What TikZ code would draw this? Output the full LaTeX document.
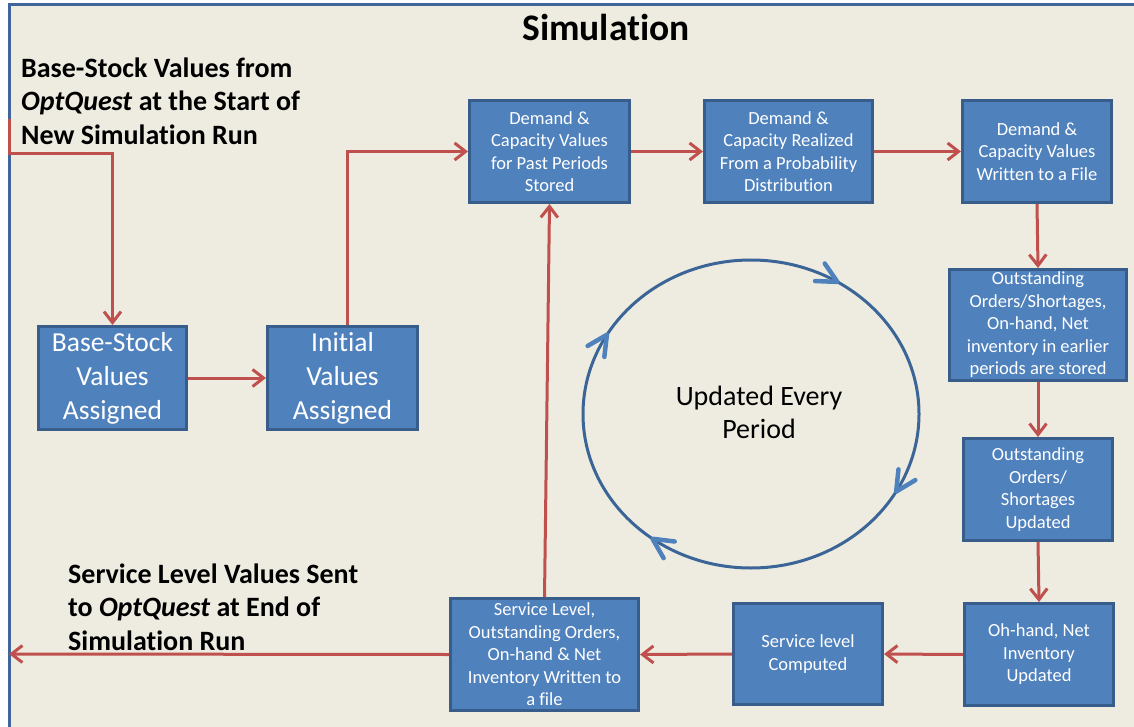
\documentclass[tikz,border=0pt]{standalone}
\usepackage{fontspec}
\setmainfont{Carlito}[Ligatures=NoCommon]
\usetikzlibrary{arrows.meta,decorations.markings}
\definecolor{bgbeige}{HTML}{EEECE1}
\definecolor{boxfill}{HTML}{4F81BD}
\definecolor{boxline}{HTML}{385D8A}
\definecolor{redline}{HTML}{C0504D}
\definecolor{circline}{HTML}{3B6497}
\definecolor{frameline}{HTML}{40659A}
\begin{document}
\begin{tikzpicture}[x=1pt,y=1pt,
  box/.style={draw=boxline, fill=boxfill, line width=3pt, text=white, align=center, inner sep=0pt, font=\fontsize{18.5}{22.5}\selectfont},
  bigbox/.style={box, font=\fontsize{27.5}{34}\selectfont},
  conn/.style={draw=redline, line width=3pt, -{Straight Barb[length=11pt,width=17pt]}},
  circ/.style={draw=circline, line width=3pt},
  chev/.style={draw=boxfill, line width=4.5pt, line cap=round, line join=round},
  bigtext/.style={font=\fontsize{28}{33.5}\selectfont\bfseries, align=left, inner sep=0pt}
]
\useasboundingbox (0,0) rectangle (1134,-727);
\clip (0,0) rectangle (1134,-727);
\fill[white] (0,0) rectangle (1134,-727);
\fill[bgbeige] (9,-5) rectangle (1140,-740);
\draw[frameline, line width=3pt] (9,-740) -- (9,-5) -- (1140,-5);

\node[font=\fontsize{37.5}{40}\selectfont\bfseries, inner sep=0pt] (title) at (606,-27) {Simulation};

\node[bigtext, anchor=west] (intext) at (21,-101) {Base-Stock Values from\\\textit{OptQuest} at the Start of\\New Simulation Run};
\node[bigtext, anchor=west] (outtext) at (68,-607) {Service Level Values Sent\\to \textit{OptQuest} at End of\\Simulation Run};

\node[bigbox, minimum width=148, minimum height=103] (b1) at (112.5,-378) {Base-Stock\\Values\\Assigned};
\node[bigbox, minimum width=150, minimum height=103] (b2) at (342.5,-378) {Initial\\Values\\Assigned};
\node[box, minimum width=160, minimum height=102] (b3) at (549.5,-151.5) {Demand \&\\Capacity Values\\for Past Periods\\Stored};
\node[box, minimum width=168, minimum height=102] (b4) at (788.5,-151.5) {Demand \&\\Capacity Realized\\From a Probability\\Distribution};
\node[box, minimum width=149, minimum height=102] (b5) at (1037,-151.5) {Demand \&\\Capacity Values\\Written to a File};
\node[box, minimum width=177, minimum height=111] (b6) at (1038,-325) {Outstanding\\Orders/Shortages,\\On-hand, Net\\inventory in earlier\\periods are stored};
\node[box, minimum width=149, minimum height=102] (b7) at (1038,-489.5) {Outstanding\\Orders/\\Shortages\\Updated};
\node[box, minimum width=149, minimum height=102] (b8) at (1039,-654.5) {Oh-hand, Net\\Inventory\\Updated};
\node[box, minimum width=149, minimum height=101] (b9) at (808,-654) {Service level\\Computed};
\node[box, minimum width=188, minimum height=112] (b10) at (544.5,-654.5) {Service Level,\\Outstanding Orders,\\On-hand \& Net\\Inventory Written to\\a file};

\coordinate (start) at (9,-119);
\coordinate (bend) at (9,-154);
\coordinate (finish) at (9,-654);
\draw[conn] (start) -- (bend) -| (b1.north);
\draw[conn] (b1.east) -- (b2.west);
\draw[conn] ([xshift=5pt]b2.north) |- (b3.west);
\draw[conn] (b3.east) -- (b4.west);
\draw[conn] (b4.east) -- (b5.west);
\draw[conn] (b5.south) -- (b6.north);
\draw[conn] (b6.south) -- (b7.north);
\draw[conn] (b7.south) -- (b8.north);
\draw[conn] (b8.west) -- (b9.east);
\draw[conn] (b9.west) -- (b10.east);
\draw[conn] (b10.west) -- (finish);
\draw[conn] (b10.north) -- (b3.south);

\coordinate (cc) at (751,-414);
\draw[circ, postaction={decorate}, decoration={markings,
   mark=at position 0.161 with {\draw[chev] (20,10) -- (0,0) -- (20,-10);},
   mark=at position 0.417 with {\draw[chev] (20,10) -- (0,0) -- (20,-10);},
   mark=at position 0.647 with {\draw[chev] (20,10) -- (0,0) -- (20,-10);},
   mark=at position 0.919 with {\draw[chev] (20,10) -- (0,0) -- (20,-10);}}]
   (cc) ellipse [x radius=168, y radius=154];
\node[font=\fontsize{28}{33}\selectfont, align=center, inner sep=0pt] (cycle) at (759,-412) {Updated Every\\Period};
\end{tikzpicture}
\end{document}
